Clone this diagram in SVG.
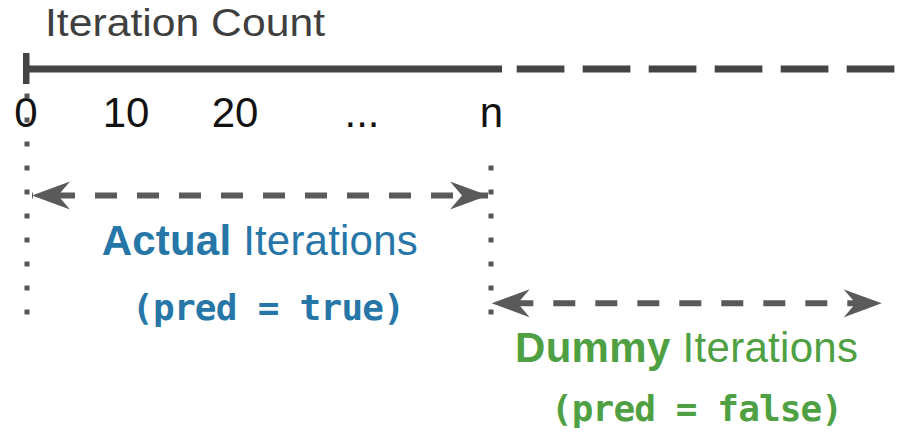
<svg xmlns="http://www.w3.org/2000/svg" width="899" height="435" viewBox="0 0 899 435">
  <style>
    .axis { stroke: #444; stroke-width: 7; fill: none; }
    .guide { stroke: #555; stroke-width: 5; fill: none; stroke-dasharray: 5 19; }
    .span { stroke: #5a5a5a; stroke-width: 6; fill: none; stroke-dasharray: 22 20; }
    .sans { font-family: "Liberation Sans", Arial, Helvetica, sans-serif; }
    .mono { font-family: "DejaVu Sans Mono", "Liberation Mono", monospace; font-weight: bold; font-size: 36px; }
    .tick { font-size: 42px; fill: #111; text-anchor: middle; }
    .label { font-size: 42px; }
    .actual { fill: #2676a8; }
    .dummy { fill: #4fa043; }
  </style>
  <defs>
    <marker id="head" markerUnits="userSpaceOnUse" markerWidth="40" markerHeight="30" refX="38" refY="14" orient="auto-start-reverse" viewBox="0 0 40 30">
      <path d="M0,0 L38,14 L0,28 L12,14 Z" fill="#5a5a5a"/>
    </marker>
  </defs>

  <!-- iteration axis -->
  <g id="axis">
    <text class="sans" x="45" y="36" font-size="38" fill="#3f3f3f" textLength="280" lengthAdjust="spacingAndGlyphs">Iteration Count</text>
    <rect x="23" y="53" width="6.5" height="31" fill="#444"/>
    <line class="axis" x1="26" y1="69" x2="502" y2="69"/>
    <line class="axis" x1="516.7" y1="69" x2="899" y2="69" stroke-dasharray="47.7 18.3"/>
    <text class="sans tick" x="26" y="127">0</text>
    <text class="sans tick" x="126" y="127">10</text>
    <text class="sans tick" x="235" y="127">20</text>
    <text class="sans tick" x="362" y="127">...</text>
    <text class="sans tick" x="491.5" y="127">n</text>
  </g>

  <!-- boundary guides -->
  <g id="guides">
    <line class="guide" x1="27" y1="93.5" x2="27" y2="315"/>
    <line class="guide" x1="491" y1="165.5" x2="491" y2="315"/>
  </g>

  <!-- span connectors -->
  <g id="connectors">
    <path class="span" d="M32,195.5 H488" stroke-dashoffset="21" marker-start="url(#head)" marker-end="url(#head)"/>
    <path class="span" d="M491.7,303.3 H881.7" stroke-dashoffset="22.4" marker-start="url(#head)" marker-end="url(#head)"/>
  </g>

  <!-- actual iterations -->
  <g id="actual">
    <text class="sans label actual" x="101.7" y="255" textLength="316"><tspan font-weight="bold">Actual</tspan> Iterations</text>
    <text class="mono actual" x="132" y="320" textLength="273">(pred = true)</text>
  </g>

  <!-- dummy iterations -->
  <g id="dummy">
    <text class="sans label dummy" x="515" y="362" textLength="343"><tspan font-weight="bold">Dummy</tspan> Iterations</text>
    <text class="mono dummy" x="551" y="421" textLength="292">(pred = false)</text>
  </g>
</svg>
